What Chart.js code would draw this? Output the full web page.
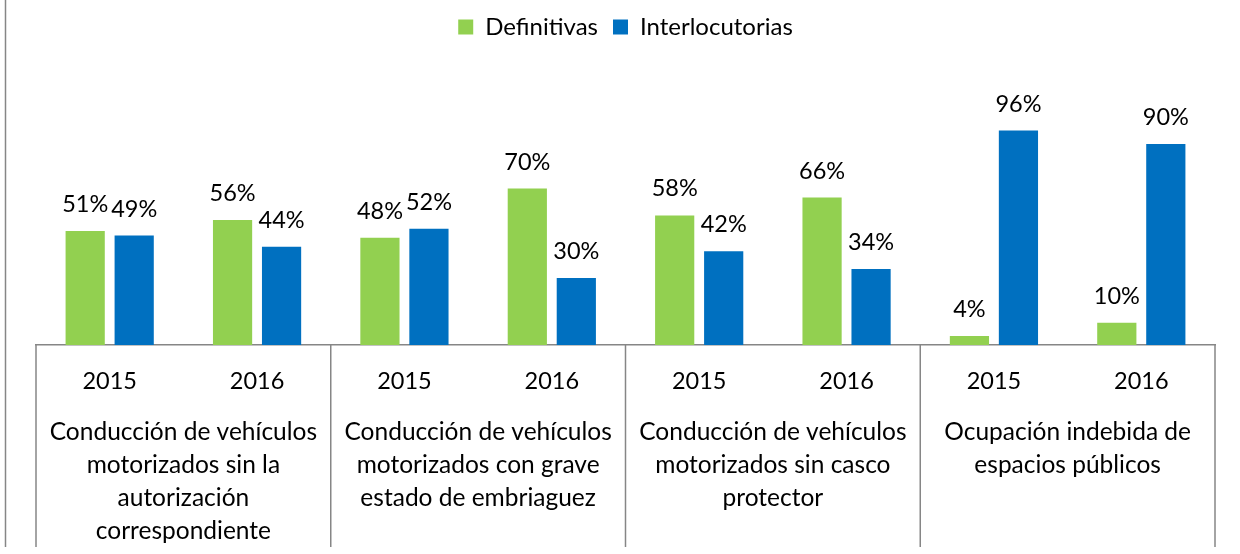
<!DOCTYPE html>
<html>
<head>
<meta charset="utf-8">
<script src="https://cdn.jsdelivr.net/npm/chart.js@4.4.1/dist/chart.umd.min.js"></script>
<style>
  html, body { margin: 0; padding: 0; background: #fff; }
  #wrap { width: 1240px; height: 554px; }
</style>
</head>
<body>
<div id="wrap"><canvas id="chart" width="1240" height="554"></canvas></div>
<script>
// datos
const years = ['2015', '2016', '2015', '2016', '2015', '2016', '2015', '2016'];
const groups = [
    ['Conducción de vehículos', 'motorizados sin la', 'autorización', 'correspondiente'],
    ['Conducción de vehículos', 'motorizados con grave', 'estado de embriaguez'],
    ['Conducción de vehículos', 'motorizados sin casco', 'protector'],
    ['Ocupación indebida de', 'espacios públicos']
];
const definitivas = [51, 56, 48, 70, 58, 66, 4, 10];
const interlocutorias = [49, 44, 52, 30, 42, 34, 96, 90];

const FONT = 'Lato';
const GRAY = '#868686';

// etiquetas de valor sobre las barras
const valueLabels = {
    id: 'valueLabels',
    afterDatasetsDraw(chart) {
        const ctx = chart.ctx;
        ctx.save();
        ctx.font = '23.5px ' + FONT;
        ctx.fillStyle = '#000';
        ctx.textAlign = 'center';
        ctx.textBaseline = 'alphabetic';
        chart.data.datasets.forEach((ds, i) => {
            chart.getDatasetMeta(i).data.forEach((bar, j) => {
                ctx.fillText(ds.data[j] + '%', bar.x, bar.y - 19);
            });
        });
        ctx.restore();
    }
};

// eje de categorias en dos niveles + marco
const groupAxis = {
    id: 'groupAxis',
    afterDraw(chart) {
        const ctx = chart.ctx;
        const x = chart.scales.x;
        const area = chart.chartArea;
        const catW = x.width / years.length;
        ctx.save();
        ctx.strokeStyle = GRAY;
        ctx.lineWidth = 1.5;
        // marco izquierdo
        ctx.beginPath();
        ctx.moveTo(5.5, 0);
        ctx.lineTo(5.5, 547);
        ctx.stroke();
        // separadores de grupo
        for (let g = 0; g <= groups.length; g++) {
            const px = x.getPixelForValue(g * 2) - catW / 2;
            ctx.beginPath();
            ctx.moveTo(px, area.bottom);
            ctx.lineTo(px, 547);
            ctx.stroke();
        }
        ctx.fillStyle = '#000';
        ctx.textAlign = 'center';
        ctx.textBaseline = 'middle';
        ctx.font = '23.5px ' + FONT;
        years.forEach((y, i) => {
            ctx.fillText(y, x.getPixelForValue(i), 381);
        });
        ctx.font = '24.5px ' + FONT;
        groups.forEach((lines, g) => {
            const cx = x.getPixelForValue(g * 2) + catW / 2;
            lines.forEach((t, k) => {
                ctx.fillText(t, cx, 432 + k * 33);
            });
        });
        ctx.restore();
    }
};

new Chart(document.getElementById('chart'), {
    type: 'bar',
    data: {
        labels: years,
        datasets: [
            {
                label: 'Definitivas',
                data: definitivas,
                backgroundColor: '#92D050',
                categoryPercentage: 0.665,
                barPercentage: 0.8
            },
            {
                label: 'Interlocutorias',
                data: interlocutorias,
                backgroundColor: '#0070C0',
                categoryPercentage: 0.665,
                barPercentage: 0.8
            }
        ]
    },
    options: {
        responsive: false,
        animation: false,
        layout: { padding: { left: 36, right: 25, top: 0, bottom: 0 } },
        plugins: {
            legend: {
                position: 'top',
                labels: {
                    color: '#000',
                    font: { family: FONT, size: 24 },
                    boxWidth: 15,
                    boxHeight: 15,
                    padding: 15
                }
            },
            tooltip: { enabled: false }
        },
        scales: {
            x: {
                grid: { display: false },
                border: { display: true, color: GRAY, width: 1.5 },
                ticks: { display: false },
                afterFit(scale) { scale.height = 209; }
            },
            y: {
                display: false,
                min: 0,
                max: 132.5
            }
        }
    },
    plugins: [valueLabels, groupAxis]
});
</script>
</body>
</html>
